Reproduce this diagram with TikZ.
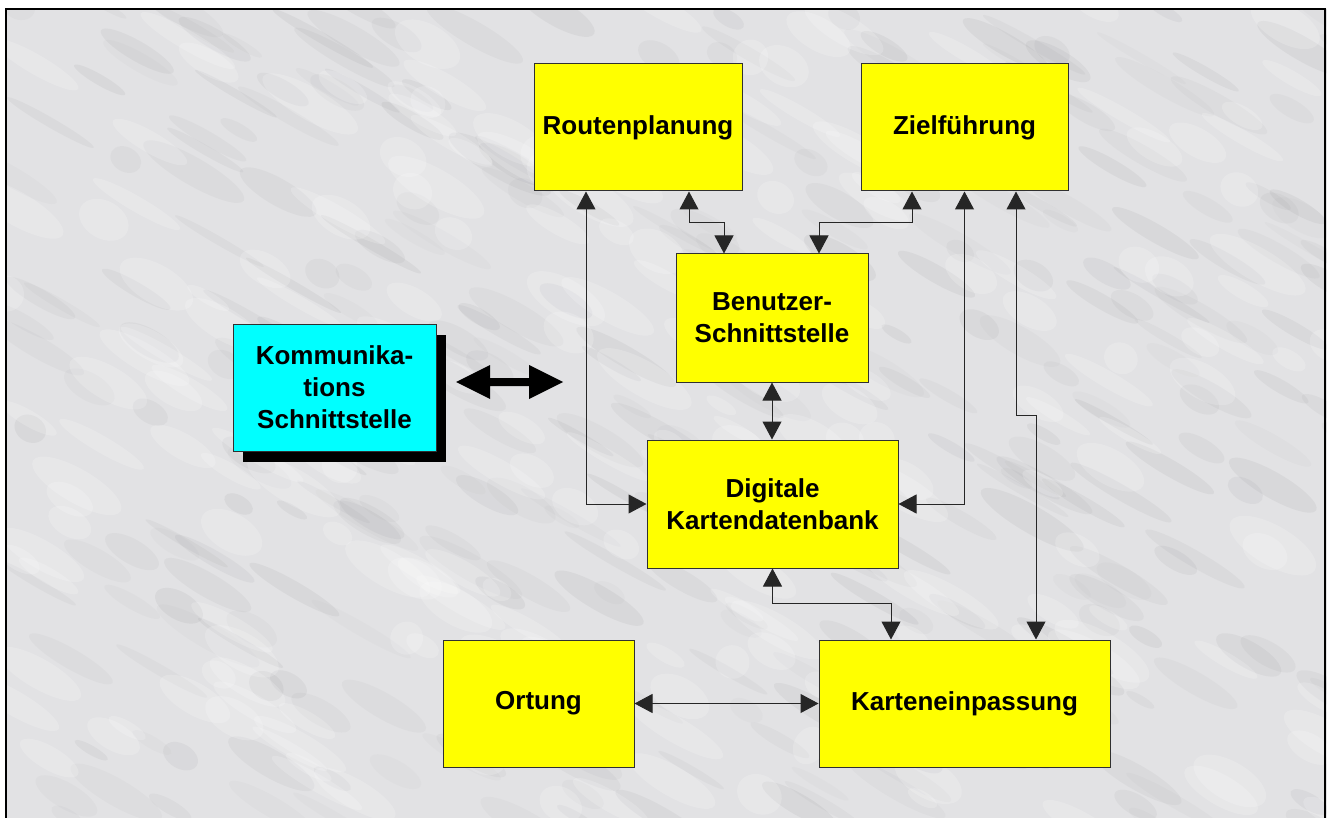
\documentclass[tikz,border=0pt]{standalone}
\usepackage{fontspec}
\setmainfont{Liberation Sans}
\usetikzlibrary{arrows.meta,calc,shadows}
\definecolor{marble}{HTML}{E2E2E4}
\definecolor{vein}{HTML}{808084}
\definecolor{boxline}{HTML}{303030}
\definecolor{boxyellow}{RGB}{255,255,0}
\definecolor{boxcyan}{RGB}{0,255,255}
\tikzset{
  box/.style={draw=boxline, line width=1pt, fill=boxyellow, align=center, inner sep=0pt,
    font=\fontsize{26}{32}\selectfont\bfseries},
  cbox/.style={box, fill=boxcyan, general shadow={fill=black, shadow xshift=10pt, shadow yshift=-11pt}},
  conn/.style={draw=black!85, line width=1pt, {Triangle[width=19pt,length=18pt]}-{Triangle[width=19pt,length=18pt]}}
}
\begin{document}
\begin{tikzpicture}[x=1pt,y=-1pt]
\useasboundingbox (0,0) rectangle (1327,818);
\fill[white] (0,0) rectangle (1327,818);
\fill[marble] (6,9) rectangle (1327,818);
\begin{scope}
\clip (6,9) rectangle (1327,818);
\pgfmathsetseed{42}
\foreach \i in {1,...,320}{
  \pgfmathsetmacro\xx{rnd*1340}
  \pgfmathsetmacro\yy{rnd*830}
  \pgfmathsetmacro\rx{15+rnd*45}
  \pgfmathsetmacro\ry{4+rnd*10}
  \pgfmathsetmacro\op{0.03+rnd*0.07}
  \fill[vein, opacity=\op, rotate around={-30:(\xx,\yy)}] (\xx,\yy) ellipse [x radius=\rx, y radius=\ry];
}
\foreach \i in {1,...,220}{
  \pgfmathsetmacro\xx{rnd*1340}
  \pgfmathsetmacro\yy{rnd*830}
  \pgfmathsetmacro\rx{15+rnd*40}
  \pgfmathsetmacro\ry{6+rnd*14}
  \fill[white, opacity=0.18, rotate around={-30:(\xx,\yy)}] (\xx,\yy) ellipse [x radius=\rx, y radius=\ry];
}
\end{scope}
\draw[black, line width=2pt] (6,818) -- (6,9) -- (1325,9) -- (1325,818);

% boxes
\node[box, minimum width=208, minimum height=127] (rp) at (638,127.5) {Routenplanung};
\node[box, minimum width=207, minimum height=127] (zf) at (964.5,127.5) {Zielführung};
\node[box, minimum width=192, minimum height=128] (bs) at (772,318) {Benutzer-\\Schnittstelle};
\node[cbox, minimum width=203, minimum height=127] (ks) at (334.5,387.5) {Kommunika-\\tions\\Schnittstelle};
\node[box, minimum width=251, minimum height=128] (dk) at (772.5,504) {Digitale\\Kartendatenbank};
\node[box, minimum width=191, minimum height=127] (or) at (538.5,703.5) {Ortung};
\node[box, minimum width=291, minimum height=127] (ke) at (964.5,703.5) {Karteneinpassung};

% big double arrow
\fill[black] (456,382) -- (490,365) -- (490,378) -- (529,378) -- (529,365) -- (563,382)
  -- (529,399) -- (529,386) -- (490,386) -- (490,399) -- cycle;

% connectors
\draw[conn] ([xshift=-52pt]rp.south) |- (dk.west);
\draw[conn] ([xshift=51pt]rp.south) -- ++(0,31) -| ([xshift=-48pt]bs.north);
\draw[conn] ([xshift=-52.5pt]zf.south) -- ++(0,31) -| ([xshift=47pt]bs.north);
\draw[conn] (zf.south) |- (dk.east);
\draw[conn] ([xshift=51.5pt]zf.south) -- ++(0,224) -| ([xshift=71.5pt]ke.north);
\draw[conn] (bs.south) -- (bs.south |- dk.north);
\draw[conn] (dk.south) -- ++(0,35) -| ([xshift=-73.5pt]ke.north);
\draw[conn] (or.east) -- (ke.west);
\end{tikzpicture}
\end{document}
